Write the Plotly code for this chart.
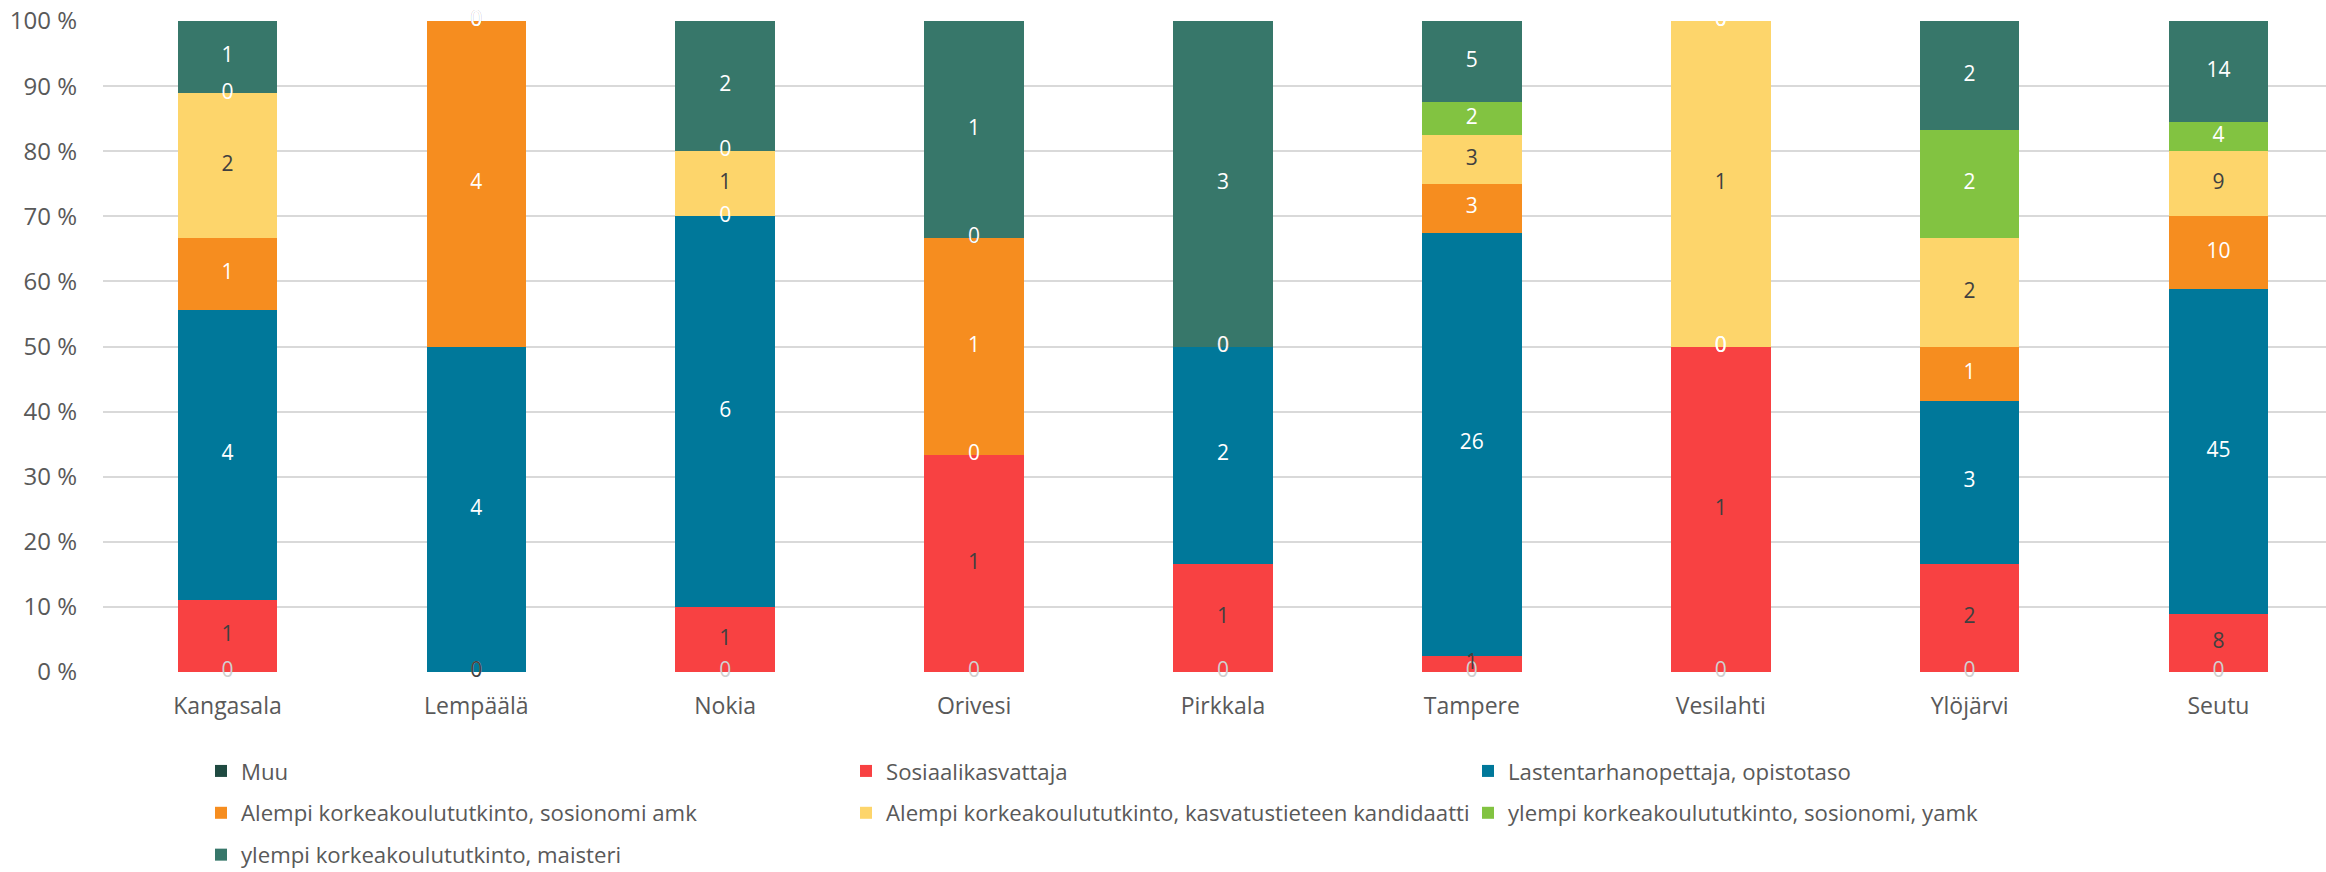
import numpy as np
import plotly.graph_objects as go

categories = ["Kangasala", "Lempäälä", "Nokia", "Orivesi", "Pirkkala",
              "Tampere", "Vesilahti", "Ylöjärvi", "Seutu"]

series_names = [
    "Muu",
    "Sosiaalikasvattaja",
    "Lastentarhanopettaja, opistotaso",
    "Alempi korkeakoulututkinto, sosionomi amk",
    "Alempi korkeakoulututkinto, kasvatustieteen kandidaatti",
    "ylempi korkeakoulututkinto, sosionomi, yamk",
    "ylempi korkeakoulututkinto, maisteri",
]

muu = [0, 0, 0, 0, 0, 0, 0, 0, 0]
sosiaalikasvattaja = [1, 0, 1, 1, 1, 1, 1, 2, 8]
lastentarhanopettaja = [4, 4, 6, 0, 2, 26, 0, 3, 45]
alempi_sosionomi = [1, 4, 0, 1, 0, 3, 0, 1, 10]
alempi_kasvatustiede = [2, 0, 1, 0, 0, 3, 1, 2, 9]
ylempi_yamk = [0, 0, 0, 0, 0, 2, 0, 2, 4]
ylempi_maisteri = [1, 0, 2, 1, 3, 5, 0, 2, 14]

series_values = [muu, sosiaalikasvattaja, lastentarhanopettaja, alempi_sosionomi,
                 alempi_kasvatustiede, ylempi_yamk, ylempi_maisteri]

colors = ["#1F4A41", "#F84142", "#00789A", "#F68D1F", "#FDD56B", "#82C341", "#37776A"]
label_colors = ["#D0D0D0", "#404040", "#FFFFFF", "#FFFFFF", "#404040", "#FFFFFF", "#FFFFFF"]
legend_ids = ["legend", "legend2", "legend3", "legend", "legend2", "legend3", "legend"]

ytick_vals = list(range(0, 101, 10))
ytick_text = [f"{v} %" for v in ytick_vals]

FONT = "Open Sans"
GRAY = "#595959"

fig = go.Figure()

vals = np.array(series_values, dtype=float)
totals = vals.sum(axis=0)
pct = vals / totals * 100
cum_top = np.cumsum(pct, axis=0)
cum_mid = cum_top - pct / 2

for i, name in enumerate(series_names):
    fig.add_trace(go.Bar(
        x=categories, y=series_values[i], name=name,
        marker=dict(color=colors[i], line=dict(width=0)),
        width=0.4, legend=legend_ids[i], legendgroup=f"g{i}",
    ))

for i, name in enumerate(series_names):
    fig.add_trace(go.Scatter(
        x=categories, y=cum_mid[i], mode="text",
        text=[str(v) for v in series_values[i]],
        textposition="middle center",
        textfont=dict(family=FONT, size=21, color=label_colors[i]),
        showlegend=False, cliponaxis=False, hoverinfo="skip",
    ))

W, H = 2326, 872
L, R, T, B = 103, 0, 21, 200
plot_w = W - L - R
plot_h = H - T - B


def lx(px):
    return (px - L) / plot_w


def ly(py):
    return (H - B - py) / plot_h


legend_common = dict(
    orientation="v", xanchor="left", yanchor="top",
    font=dict(family=FONT, size=22.2, color=GRAY),
    bgcolor="rgba(0,0,0,0)", tracegroupgap=10, itemwidth=30,
)

fig.update_layout(
    width=W, height=H,
    margin=dict(l=L, r=R, t=T, b=B, autoexpand=False),
    barmode="stack", barnorm="percent",
    plot_bgcolor="white", paper_bgcolor="white",
    font=dict(family=FONT, color=GRAY),
    showlegend=True,
    legend=dict(x=lx(201), y=ly(750), **legend_common),
    legend2=dict(x=lx(846), y=ly(750), **legend_common),
    legend3=dict(x=lx(1468), y=ly(750), **legend_common),
)

fig.update_xaxes(
    type="category", categoryorder="array", categoryarray=categories,
    range=[-0.5, 8.432], showgrid=False, showline=False, zeroline=False,
    ticks="", tickfont=dict(family=FONT, size=23, color=GRAY),
    ticklabelstandoff=18,
)
fig.update_yaxes(
    range=[0, 100], tickvals=ytick_vals, ticktext=ytick_text,
    showgrid=True, gridcolor="#D9D9D9", gridwidth=1.5,
    zeroline=False, showline=False, ticks="",
    tickfont=dict(family=FONT, size=24, color=GRAY),
    ticklabelstandoff=25,
)

fig.write_html("out.html", config={"displayModeBar": False},
               post_script="document.body.style.margin='0';")
